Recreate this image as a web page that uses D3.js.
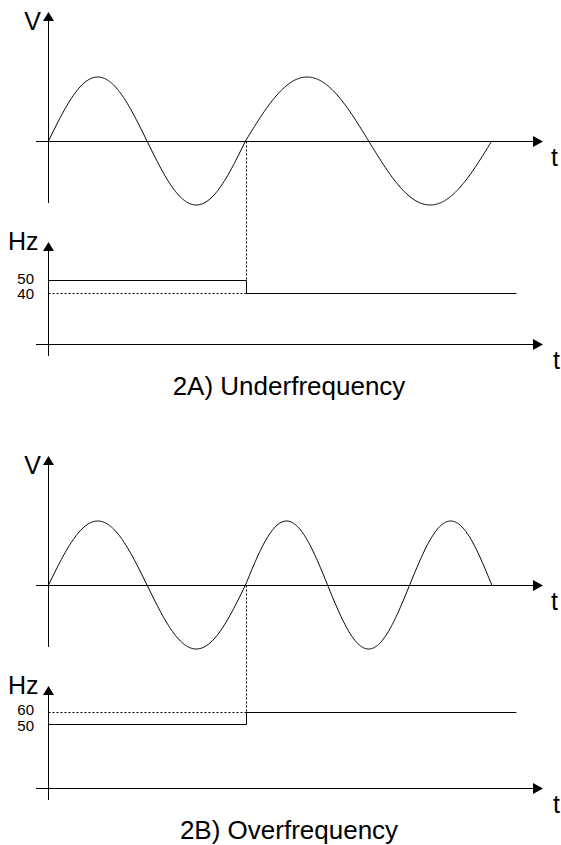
<!DOCTYPE html>
<html>
<head>
<meta charset="utf-8">
<script src="https://cdn.jsdelivr.net/npm/d3@7"></script>
<style>
  body { margin: 0; background: #fff; }
  text { font-family: "Liberation Sans", Arial, sans-serif; fill: #000; }
</style>
</head>
<body>
<div id="graph"></div>
<script>
// panel data
const panelTitles = ["2A) Underfrequency", "2B) Overfrequency"];
const freqBefore = [50, 50];      // Hz before the change
const freqAfter = [40, 60];       // Hz after the change
const cyclesBefore = [1, 1];      // sine cycles drawn at the first frequency
const cyclesAfter = [1, 1.5];     // sine cycles drawn at the second frequency
const hzTickLabels = [["50", "40"], ["60", "50"]];
const hzTickValues = [[50, 40], [60, 50]];
const freqLineEnd = 47.5;         // ms, where the Hz trace stops

const width = 561, height = 845;
const panelOffset = 444;

const svg = d3.select("#graph")
    .append("svg")
    .attr("width", width)
    .attr("height", height);

// time in ms -> px
const x = d3.scaleLinear().domain([0, 50]).range([48.5, 541]);
// voltage (per unit)
const v = d3.scaleLinear().domain([-1, 1]).range([205, 77]);
// frequency
const hz = d3.scaleLinear().domain([40, 60]).range([292.5, 268]);

const axisX = x(0);
const axisLeft = 36, axisTip = 543;

function arrowUp(g, cx, tipY) {
    g.append("path")
        .attr("d", d3.line()([[cx, tipY], [cx - 5.5, tipY + 9], [cx + 5.5, tipY + 9]]) + "Z")
        .attr("fill", "#000");
}
function arrowRight(g, tipX, cy) {
    g.append("path")
        .attr("d", d3.line()([[tipX, cy], [tipX - 10, cy - 5.5], [tipX - 10, cy + 5.5]]) + "Z")
        .attr("fill", "#000");
}

function drawPanel(i) {
    const g = svg.append("g")
        .attr("transform", "translate(0," + (i * panelOffset) + ")");

    const tSwitch = 1000 / freqBefore[i] * cyclesBefore[i];
    const tEnd = tSwitch + 1000 / freqAfter[i] * cyclesAfter[i];
    const zeroY = Math.round(v(0)) + 0.5;

    // sine samples from the two frequencies
    const samples = d3.range(0, tEnd + 0.001, 0.1).map(function (t) {
        const phase = t <= tSwitch
            ? 2 * Math.PI * freqBefore[i] * t / 1000
            : 2 * Math.PI * (cyclesBefore[i] + freqAfter[i] * (t - tSwitch) / 1000);
        return [t, Math.sin(phase)];
    });

    // V axis
    g.append("line")
        .attr("x1", axisX).attr("x2", axisX)
        .attr("y1", 203).attr("y2", 20)
        .attr("stroke", "#000");
    arrowUp(g, axisX, 12);
    g.append("text").attr("x", 41).attr("y", 30)
        .attr("text-anchor", "end").attr("font-size", 25).text("V");

    // zero line / time axis
    g.append("line")
        .attr("x1", axisLeft).attr("x2", axisTip - 8)
        .attr("y1", zeroY).attr("y2", zeroY)
        .attr("stroke", "#000");
    arrowRight(g, axisTip, zeroY);
    g.append("text").attr("x", 551).attr("y", zeroY + 24)
        .attr("font-size", 25).text("t");

    // sine wave
    g.append("path")
        .datum(samples)
        .attr("fill", "none")
        .attr("stroke", "#000")
        .attr("stroke-width", 1)
        .attr("d", d3.line()
            .x(function (d) { return x(d[0]); })
            .y(function (d) { return v(d[1]); }));

    // Hz axis
    const timeY = 344.5;
    g.append("line")
        .attr("x1", axisX).attr("x2", axisX)
        .attr("y1", 356).attr("y2", 250)
        .attr("stroke", "#000");
    arrowUp(g, axisX, 242);
    g.append("text").attr("x", 8).attr("y", 250)
        .attr("font-size", 25).text("Hz");

    g.append("line")
        .attr("x1", axisLeft).attr("x2", axisTip - 8)
        .attr("y1", timeY).attr("y2", timeY)
        .attr("stroke", "#000");
    arrowRight(g, axisTip, timeY);
    g.append("text").attr("x", 553).attr("y", timeY + 24)
        .attr("font-size", 25).text("t");

    // Hz tick labels (upper one nudged up, lower one down so they don't collide)
    g.selectAll(".hzlab")
        .data(hzTickValues[i])
        .enter().append("text")
        .attr("class", "hzlab")
        .attr("x", 34)
        .attr("y", function (d, j) { return hz(d) + (j === 0 ? -2 : 1.5); })
        .attr("dy", "0.36em")
        .attr("text-anchor", "end")
        .attr("font-size", 15)
        .text(function (d, j) { return hzTickLabels[i][j]; });

    const sx = Math.round(x(tSwitch)) + 0.5;
    const yBefore = Math.round(hz(freqBefore[i])) + 0.5;
    const yAfter = Math.round(hz(freqAfter[i])) + 0.5;

    // dotted guides
    g.append("line")
        .attr("x1", axisX).attr("x2", sx)
        .attr("y1", yAfter).attr("y2", yAfter)
        .attr("stroke", "#000").attr("stroke-dasharray", "2,2");
    g.append("line")
        .attr("x1", sx).attr("x2", sx)
        .attr("y1", zeroY).attr("y2", Math.min(yBefore, yAfter))
        .attr("stroke", "#000").attr("stroke-dasharray", "2,2");

    // frequency step
    g.append("path")
        .attr("fill", "none")
        .attr("stroke", "#000")
        .attr("d", d3.line()([
            [axisX, yBefore], [sx, yBefore], [sx, yAfter], [x(freqLineEnd), yAfter]
        ]));

    // title
    g.append("text")
        .attr("x", 289).attr("y", 395)
        .attr("text-anchor", "middle")
        .attr("font-size", 26)
        .text(panelTitles[i]);
}

panelTitles.forEach(function (d, i) { drawPanel(i); });
</script>
</body>
</html>
